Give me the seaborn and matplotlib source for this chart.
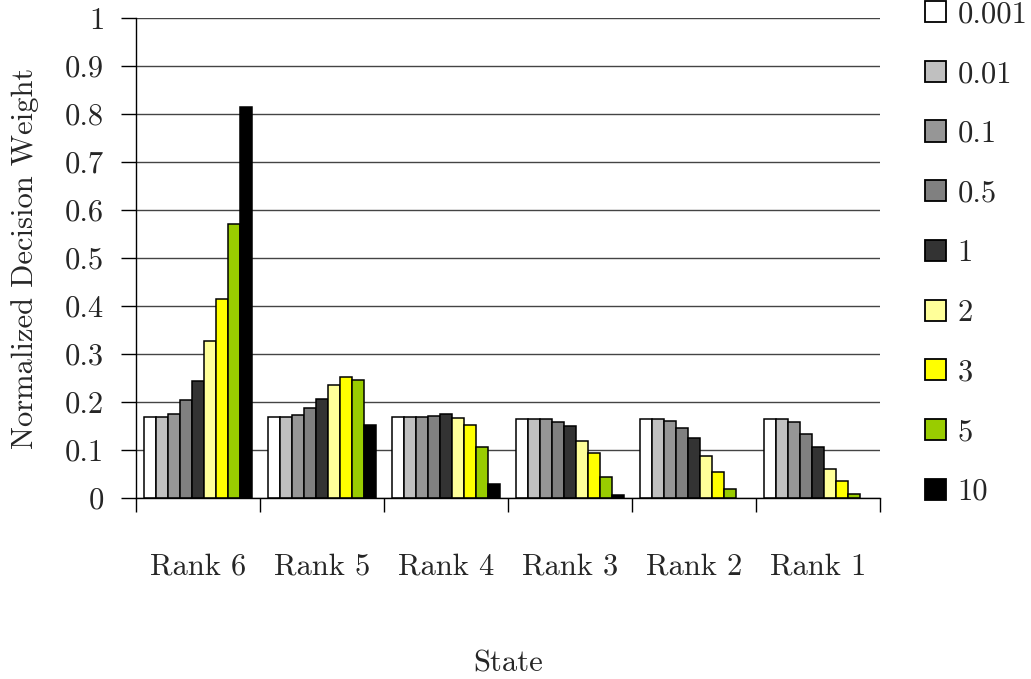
import numpy as np
import pandas as pd
import matplotlib
matplotlib.use("Agg")
import matplotlib.pyplot as plt
import seaborn as sns

states = ["Rank 6", "Rank 5", "Rank 4", "Rank 3", "Rank 2", "Rank 1"]
lambdas = ["0.001", "0.01", "0.1", "0.5", "1", "2", "3", "5", "10"]
colors = ["#FFFFFF", "#C0C0C0", "#969696", "#808080", "#333333",
          "#FFFF99", "#FFFF00", "#99CC00", "#000000"]

w_0001 = [0.168, 0.168, 0.168, 0.165, 0.165, 0.165]
w_001 = [0.168, 0.168, 0.168, 0.165, 0.165, 0.165]
w_01 = [0.175, 0.172, 0.168, 0.165, 0.161, 0.158]
w_05 = [0.204, 0.188, 0.171, 0.159, 0.145, 0.133]
w_1 = [0.243, 0.207, 0.175, 0.149, 0.126, 0.106]
w_2 = [0.327, 0.236, 0.167, 0.119, 0.087, 0.061]
w_3 = [0.415, 0.253, 0.152, 0.093, 0.055, 0.035]
w_5 = [0.570, 0.245, 0.106, 0.044, 0.019, 0.009]
w_10 = [0.815, 0.153, 0.030, 0.006, 0.0, 0.0]

yticks = [0, 0.1, 0.2, 0.3, 0.4, 0.5, 0.6, 0.7, 0.8, 0.9, 1]
ytick_labels = ["0", "0.1", "0.2", "0.3", "0.4", "0.5", "0.6", "0.7", "0.8", "0.9", "1"]

series = [w_0001, w_001, w_01, w_05, w_1, w_2, w_3, w_5, w_10]
rows = []
for lam, vals in zip(lambdas, series):
    for s, v in zip(states, vals):
        rows.append({"State": s, "lam": lam, "w": v})
df = pd.DataFrame(rows)

sns.set_theme(style="white")
plt.rcParams["font.family"] = ["cmr10", "DejaVu Serif"]
plt.rcParams["axes.formatter.use_mathtext"] = True

FS = 22

fig = plt.figure(figsize=(10.31, 6.79), dpi=100)
ax = fig.add_axes([136 / 1031, 1 - 498 / 679, (880 - 136) / 1031, 480 / 679])

sns.barplot(data=df, x="State", y="w", hue="lam", order=states, hue_order=lambdas,
            palette=colors, width=0.875, gap=0, edgecolor="black", linewidth=1.1,
            saturation=1, ax=ax, legend=True)

for cont in ax.containers:
    for bar in cont:
        if bar.get_height() == 0:
            bar.set_visible(False)

ax.set_ylim(0, 1)
ax.set_xlim(-0.5, 5.5)
ax.set_yticks(yticks)
ax.set_yticklabels(ytick_labels, fontsize=FS)
ax.yaxis.grid(True, color="#444444", linewidth=1.0)
ax.set_axisbelow(True)
ax.tick_params(axis="y", length=11, width=1, color="black", pad=12, left=True)

ax.set_xticks(np.arange(-0.5, 6, 1.0))
ax.set_xticklabels([""] * 7)
ax.tick_params(axis="x", which="major", length=10, width=1, color="black", bottom=True)
ax.set_xticks(np.arange(6), minor=True)
ax.set_xticklabels(states, minor=True, fontsize=FS)
ax.tick_params(axis="x", which="minor", length=0, pad=40)

for side in ["top", "right"]:
    ax.spines[side].set_visible(False)
for side in ["left", "bottom"]:
    ax.spines[side].set_color("black")
    ax.spines[side].set_linewidth(1.0)

ax.set_xlabel("State", fontsize=FS, labelpad=50)
ax.set_ylabel("Normalized Decision Weight", fontsize=FS, labelpad=19)

handles, labels = ax.get_legend_handles_labels()
for h in handles:
    h.set_linewidth(1.3)
ax.legend(handles, labels, loc="upper left", bbox_to_anchor=(925 / 1031, 1 - 1 / 679),
          bbox_transform=fig.transFigure, frameon=False, fontsize=FS,
          handlelength=0.69, handleheight=0.69, handletextpad=0.38,
          labelspacing=1.055, borderpad=0, borderaxespad=0)

fig.savefig("out.png", dpi=100)
